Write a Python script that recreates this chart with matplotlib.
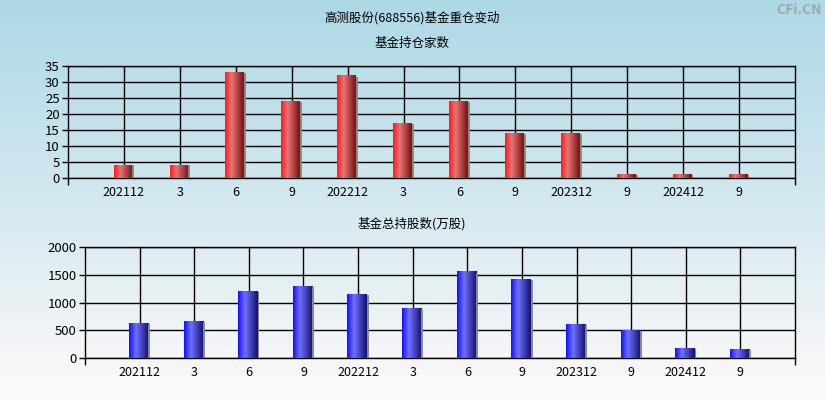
import matplotlib
matplotlib.use('Agg')
import matplotlib.pyplot as plt
from matplotlib.colors import LinearSegmentedColormap
from matplotlib.patches import Rectangle
import numpy as np

plt.rcParams['font.family'] = ['Noto Sans CJK SC', 'DejaVu Sans']

# 数据
labels = ['202112', '3', '6', '9', '202212', '3', '6', '9', '202312', '9', '202412', '9']
fund_count = [4, 4, 33, 24, 32, 17, 24, 14, 14, 1, 1, 1]
fund_shares = [618, 654, 1195, 1290, 1141, 888, 1555, 1411, 600, 492, 168, 150]

fig = plt.figure(figsize=(8.25, 4), dpi=100)

# 背景渐变
bg = fig.add_axes([0, 0, 1, 1], zorder=-10)
bg_cmap = LinearSegmentedColormap.from_list('bg', [(0, '#add8e6'), (0.5, '#d4e8f0'), (1, '#fefafa')])
bg.imshow(np.linspace(0, 1, 256).reshape(-1, 1), aspect='auto', cmap=bg_cmap, extent=[0, 1, 0, 1])
bg.axis('off')

red_cmap = LinearSegmentedColormap.from_list('red', [(0, '#ff1a1a'), (0.35, '#e87474'), (1, '#7a1010')])
blue_cmap = LinearSegmentedColormap.from_list('blue', [(0, '#1010ff'), (0.35, '#7070ff'), (1, '#101070')])
grad = np.linspace(0, 1, 64).reshape(1, -1)


def draw_panel(ax, values, cmap, width, ymax, ystep):
    x = np.arange(1, len(values) + 1)
    ax.set_facecolor('none')
    for xi, v in zip(x, values):
        x0 = xi - width / 2
        sw = width * 0.09
        ax.imshow(grad, cmap=cmap, aspect='auto', extent=[x0, x0 + width - sw, 0, v], zorder=3)
        ax.add_patch(Rectangle((x0 + width - sw, 0), sw, v * 0.99, color='#8a8a8a', zorder=3, lw=0))
    ax.set_xlim(0, len(values) + 1)
    ax.set_ylim(0, ymax)
    ax.set_yticks(np.arange(0, ymax + 1, ystep))
    ax.set_xticks(x)
    ax.set_xticklabels(labels)
    ax.set_xticks([0, len(values) + 1], minor=True)
    ax.grid(True, color='black', lw=1, zorder=1)
    ax.set_axisbelow(True)
    ax.tick_params(axis='x', which='major', length=0, pad=6, labelsize=9)
    ax.tick_params(axis='x', which='minor', length=5, width=1, color='black')
    ax.tick_params(axis='y', length=4, width=1, pad=2, labelsize=9.5)
    for s in ax.spines.values():
        s.set_color('black')
        s.set_linewidth(1)


ax1 = fig.add_axes([68 / 825, 1 - 178 / 400, 727 / 825, 112 / 400])
draw_panel(ax1, fund_count, red_cmap, 0.37, 35, 5)

ax2 = fig.add_axes([85 / 825, 1 - 358 / 400, 710 / 825, 111 / 400])
draw_panel(ax2, fund_shares, blue_cmap, 0.39, 2000, 500)

fig.text(412 / 825, 1 - 18 / 400, '高测股份(688556)基金重仓变动', ha='center', va='center', fontsize=9)
fig.text(412 / 825, 1 - 43 / 400, '基金持仓家数', ha='center', va='center', fontsize=9)
fig.text(412 / 825, 1 - 224 / 400, '基金总持股数(万股)', ha='center', va='center', fontsize=9)
fig.text(822 / 825, 1 - 10 / 400, 'CFi.CN', ha='right', va='center', fontsize=10, color='#a0a8ac', fontweight='bold')

fig.savefig('out.png', dpi=100)
